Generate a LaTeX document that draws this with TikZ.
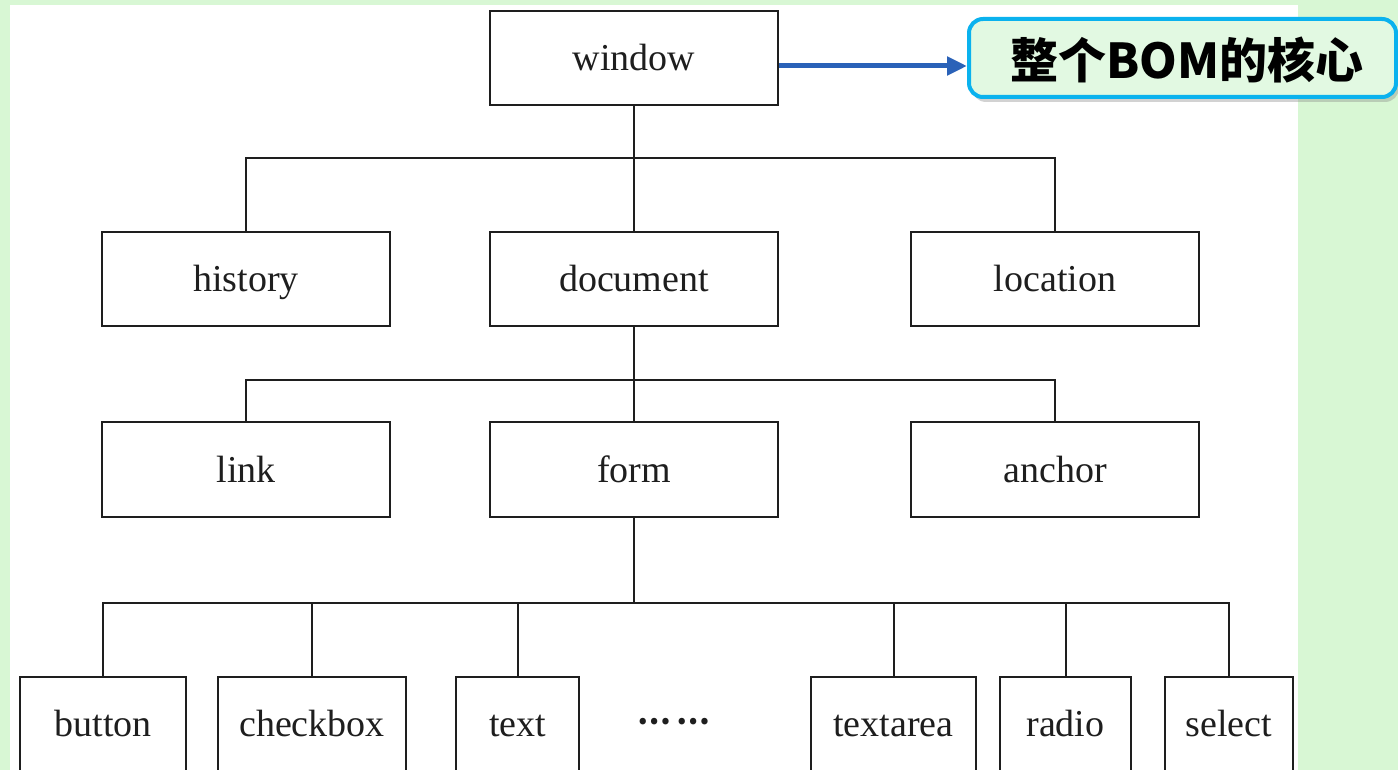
\documentclass[tikz,border=0pt]{standalone}
\usepackage{fontspec}
\setmainfont{Liberation Serif}
\newfontfamily\cjk{Noto Sans CJK SC}
\usetikzlibrary{shadows,arrows.meta}
\definecolor{bggreen}{HTML}{D8F7D4}
\definecolor{callfill}{HTML}{E2F9E2}
\definecolor{callborder}{HTML}{0AB2EE}
\definecolor{arrowblue}{HTML}{2A62B8}
\definecolor{ink}{HTML}{1E1E1E}
\begin{document}
\begin{tikzpicture}[x=1pt,y=-1pt,
  box/.style={draw=ink,line width=2pt,fill=white,inner sep=0pt,text=ink,
    text height=25pt,text depth=0pt,
    font=\fontsize{38}{40}\selectfont},
  conn/.style={draw=ink,line width=2pt},
  callout/.style={draw=callborder,line width=4pt,fill=callfill,rounded corners=14pt,
    inner sep=0pt,drop shadow={shadow xshift=3pt,shadow yshift=-5pt,opacity=0.35}},
  pointer/.style={draw=arrowblue,line width=5pt,-{Triangle[length=20pt,width=18pt]}}]
\fill[bggreen] (0,0) rectangle (1398,770);
\fill[white] (10,5) rectangle (1298,770);
\useasboundingbox (0,0) rectangle (1398,770);

% level 0
\node[box,minimum width=288,minimum height=94] (window) at (634,58) {window};
% level 1
\node[box,minimum width=288,minimum height=94] (history) at (246,279) {history};
\node[box,minimum width=288,minimum height=94] (document) at (634,279) {document};
\node[box,minimum width=288,minimum height=94] (location) at (1055,279) {location};
% level 2
\node[box,minimum width=288,minimum height=95] (link) at (246,469.5) {link};
\node[box,minimum width=288,minimum height=95] (form) at (634,469.5) {form};
\node[box,minimum width=288,minimum height=95] (anchor) at (1055,469.5) {anchor};
% level 3
\node[box,minimum width=166,minimum height=94] (button) at (103,724) {button};
\node[box,minimum width=188,minimum height=94] (checkbox) at (312,724) {checkbox};
\node[box,minimum width=123,minimum height=94] (text) at (517.5,724) {text};
\node[text=ink,inner sep=0pt,font=\cjk\bfseries\fontsize{30}{34}\selectfont] (dots) at (674,722) {…\hspace{5pt}…};
\node[box,minimum width=165,minimum height=94] (textarea) at (893.5,724) {textarea};
\node[box,minimum width=131,minimum height=94] (radio) at (1065.5,724) {radio};
\node[box,minimum width=128,minimum height=94] (select) at (1229,724) {select};

% junctions
\coordinate (j1) at (634,158);
\coordinate (j2) at (634,380);
\coordinate (j3) at (634,603);

\draw[conn] (window.south) -- (document.north);
\draw[conn] (history.north) |- (j1) -| (location.north);

\draw[conn] (document.south) -- (form.north);
\draw[conn] (link.north) |- (j2) -| (anchor.north);

\draw[conn] (form.south) -- (j3);
\draw[conn] (button.north) |- (j3) -| (select.north);
\draw[conn] (checkbox.north) -- (checkbox.north |- j3);
\draw[conn] (text.north) -- (text.north |- j3);
\draw[conn] (textarea.north) -- (textarea.north |- j3);
\draw[conn] (radio.north) -- (radio.north |- j3);

% callout
\node[callout,minimum width=427,minimum height=78] (note) at (1182.5,58) {};
\node[inner sep=0pt,text=black,font=\cjk\bfseries\fontsize{48}{50}\selectfont] (notetext) at (1187,60) {整个BOM的核心};
\draw[pointer] ([yshift=-8pt]window.east) -- ([yshift=-8pt]note.west);
\end{tikzpicture}
\end{document}
